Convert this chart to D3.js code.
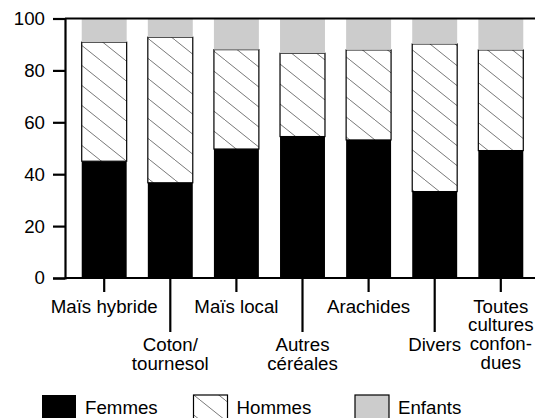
<!DOCTYPE html>
<html><head><meta charset="utf-8">
<script src="https://cdn.jsdelivr.net/npm/d3@7"></script>
<style>
html,body{margin:0;padding:0;background:#fff;overflow:hidden;}
svg{display:block;font-family:"Liberation Sans",Arial,Helvetica,sans-serif;}
</style></head>
<body>
<svg id="c" width="535" height="418"></svg>
<script>
const categories = ["Maïs hybride","Coton/ tournesol","Maïs local","Autres céréales","Arachides","Divers","Toutes cultures confon-dues"];
const labelLines = [["Maïs hybride"],["Coton/","tournesol"],["Maïs local"],["Autres","céréales"],["Arachides"],["Divers"],["Toutes","cultures","confon-","dues"]];
const femmes  = [45.0, 36.7, 49.7, 54.5, 53.2, 33.3, 49.1];
const hommes  = [45.9, 56.1, 38.3, 32.1, 34.7, 56.9, 38.8];
const enfants = [9.1, 7.2, 12.0, 13.4, 12.1, 9.8, 12.1];
const seriesNames = ["Femmes","Hommes","Enfants"];
const yTicks = [0,20,40,60,80,100];

const FS = 18.7;
const svg = d3.select("#c");
const defs = svg.append("defs");
const pat = defs.append("pattern").attr("id","hatch").attr("patternUnits","userSpaceOnUse")
  .attr("width",25).attr("height",20);
pat.append("rect").attr("width",25).attr("height",20).attr("fill","#fff");
pat.append("line").attr("x1",-25).attr("y1",-20).attr("x2",50).attr("y2",40)
  .attr("stroke","#555").attr("stroke-width",0.8);

const x0 = 65, xr = 540, y0 = 278, y1 = 18.5;
const x = d3.scaleBand().domain(categories).range([x0, xr]).paddingInner(0.32).paddingOuter(0.253);
const y = d3.scaleLinear().domain([0,100]).range([y0, y1]);

const rows = categories.map((c,i)=>({cat:c, Femmes:femmes[i], Hommes:hommes[i], Enfants:enfants[i]}));
const stack = d3.stack().keys(seriesNames)(rows);
const fills = {Femmes:"#000", Hommes:"url(#hatch)", Enfants:"#cccccc"};

stack.forEach(s=>{
  svg.append("g").selectAll("rect").data(s).join("rect")
    .attr("x", d=>x(d.data.cat))
    .attr("width", x.bandwidth())
    .attr("y", d=>y(d[1]))
    .attr("height", d=>y(d[0])-y(d[1]))
    .attr("fill", fills[s.key])
    .attr("stroke", s.key==="Hommes" ? "#000" : "none")
    .attr("stroke-width", 1.2);
});

// frame top line
svg.append("line").attr("x1",x0).attr("x2",535).attr("y1",y(100)).attr("y2",y(100))
  .attr("stroke","#000").attr("stroke-width",2.2);

// y axis
const yAxis = svg.append("g").attr("transform",`translate(${x0},0)`)
  .call(d3.axisLeft(y).tickValues(yTicks).tickSize(12).tickPadding(8));
yAxis.select(".domain").attr("stroke-width",2.2);
yAxis.selectAll(".tick line").attr("stroke-width",2.2);
yAxis.selectAll("text").attr("font-size",FS).attr("fill","#000").attr("font-family","Liberation Sans, Arial, sans-serif");

// x axis
const xAxis = svg.append("g").attr("transform",`translate(0,${y0})`)
  .call(d3.axisBottom(x).tickSizeOuter(0).tickSize(0).tickFormat(""));
xAxis.select(".domain").attr("d",`M${x0},0H535`).attr("stroke-width",2.2);
xAxis.selectAll(".tick line").attr("y2",(d,i)=> i%2===0 ? 14 : 54).attr("stroke-width",2.2);

const labG = svg.append("g").attr("font-size",FS).attr("text-anchor","middle").attr("fill","#000");
categories.forEach((c,i)=>{
  const cx = x(c) + x.bandwidth()/2;
  const base = i%2===0 ? 312.5 : 351;
  const t = labG.append("text").attr("x",cx).attr("y",base);
  labelLines[i].forEach((line,j)=>{
    t.append("tspan").attr("x",cx).attr("dy", j===0 ? 0 : 18.8).text(line);
  });
});

// legend
const legX = [42, 193.5, 355];
const lg = svg.append("g");
seriesNames.forEach((n,i)=>{
  lg.append("rect").attr("x",legX[i]).attr("y",395).attr("width",34).attr("height",30)
    .attr("fill",fills[n]).attr("stroke", n==="Femmes" ? "none" : "#000").attr("stroke-width",1.2);
  lg.append("text").attr("x",legX[i]+43).attr("y",414).attr("font-size",FS).attr("fill","#000").text(n);
});
</script>
</body></html>
